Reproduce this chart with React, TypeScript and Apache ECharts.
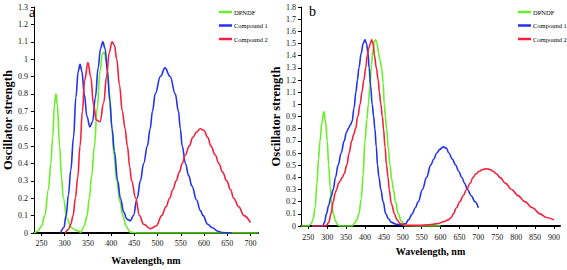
import React, { useEffect, useRef } from "react";
import * as echarts from "echarts";

// ---------- Panel a ----------
const aDpndfWl = [234, 242, 250, 257, 265, 270, 274, 278, 281, 284, 289, 293, 297, 305, 315, 325, 335, 342, 348, 353, 358, 364, 370, 376, 381, 385, 390, 396, 401, 406, 412, 419, 425, 432, 441, 455, 500, 600, 716];
const aDpndfVal = [0, 0.01, 0.04, 0.1, 0.25, 0.4, 0.55, 0.74, 0.8, 0.74, 0.5, 0.32, 0.2, 0.08, 0.03, 0.015, 0.005, 0.04, 0.1, 0.2, 0.33, 0.5, 0.72, 0.93, 1.03, 1.04, 0.98, 0.82, 0.62, 0.45, 0.3, 0.18, 0.1, 0.04, 0.005, 0, 0, 0, 0];

const aComp1Wl = [291, 298, 303, 308, 313, 319, 324, 329, 333, 337, 342, 348, 354, 360, 366, 372, 377, 382, 387, 392, 397, 402, 407, 414, 420, 427, 434, 441, 448, 456, 463, 470, 478, 484, 489, 495, 506, 516, 527, 538, 545, 549, 553, 560, 567, 574, 584, 592, 598, 608, 618, 630, 640, 660];
const aComp1Val = [0, 0.03, 0.1, 0.22, 0.36, 0.55, 0.78, 0.93, 0.97, 0.93, 0.8, 0.67, 0.61, 0.64, 0.78, 0.95, 1.06, 1.1, 1.06, 0.93, 0.76, 0.6, 0.47, 0.3, 0.2, 0.12, 0.08, 0.07, 0.1, 0.2, 0.3, 0.4, 0.5, 0.6, 0.7, 0.8, 0.9, 0.95, 0.9, 0.8, 0.7, 0.6, 0.5, 0.4, 0.33, 0.27, 0.19, 0.13, 0.1, 0.05, 0.03, 0.01, 0.003, 0];

const aComp2Wl = [301, 308, 313, 318, 323, 328, 333, 338, 343, 350, 356, 362, 368, 376, 384, 390, 396, 402, 407, 412, 418, 424, 430, 435, 440, 444, 453, 461, 470, 485, 497, 509, 518, 526, 533, 540, 547, 553, 560, 568, 576, 584, 592, 600, 608, 615, 624, 632, 640, 649, 657, 664, 675, 686, 700];
const aComp2Val = [0, 0.02, 0.05, 0.1, 0.2, 0.32, 0.5, 0.7, 0.88, 0.98, 0.9, 0.74, 0.65, 0.64, 0.75, 0.9, 1.04, 1.1, 1.08, 1.0, 0.85, 0.7, 0.6, 0.5, 0.38, 0.3, 0.2, 0.1, 0.05, 0.025, 0.04, 0.1, 0.15, 0.2, 0.25, 0.3, 0.35, 0.4, 0.45, 0.5, 0.55, 0.58, 0.6, 0.59, 0.55, 0.5, 0.45, 0.4, 0.35, 0.3, 0.25, 0.2, 0.15, 0.1, 0.06];

// ---------- Panel b ----------
const bDpndfWl = [231, 250, 258, 263, 268, 273, 277, 281, 286, 291, 296, 300, 304, 308, 312, 316, 322, 328, 334, 350, 365, 372, 378, 384, 390, 395, 400, 405, 409, 413, 417, 421, 425, 428, 432, 436, 440, 444, 448, 451, 454, 457, 462, 466, 471, 475, 481, 488, 496, 506, 540, 600];
const bDpndfVal = [0, 0, 0.02, 0.06, 0.15, 0.35, 0.55, 0.7, 0.85, 0.94, 0.85, 0.7, 0.5, 0.32, 0.18, 0.1, 0.04, 0.01, 0, 0, 0, 0.02, 0.05, 0.1, 0.22, 0.42, 0.7, 0.88, 1.0, 1.15, 1.32, 1.45, 1.52, 1.53, 1.5, 1.42, 1.36, 1.3, 1.18, 1.0, 0.9, 0.8, 0.63, 0.5, 0.38, 0.3, 0.2, 0.1, 0.04, 0.003, 0, 0];

const bComp1Wl = [260, 288, 293, 298, 304, 310, 316, 322, 329, 337, 345, 351, 356, 361, 366, 371, 376, 380, 384, 390, 395, 400, 404, 408, 411, 415, 419, 423, 426, 430, 433, 437, 442, 448, 455, 462, 470, 482, 497, 508, 515, 525, 533, 541, 552, 563, 574, 582, 590, 598, 607, 615, 622, 631, 640, 648, 656, 664, 671, 681, 691, 700];
const bComp1Val = [0, 0, 0.03, 0.1, 0.17, 0.24, 0.3, 0.4, 0.5, 0.6, 0.7, 0.77, 0.8, 0.83, 0.86, 0.97, 1.1, 1.2, 1.3, 1.42, 1.5, 1.53, 1.5, 1.42, 1.3, 1.15, 1.0, 0.9, 0.8, 0.65, 0.5, 0.4, 0.3, 0.2, 0.1, 0.06, 0.03, 0.015, 0.01, 0.02, 0.05, 0.1, 0.15, 0.2, 0.3, 0.4, 0.5, 0.55, 0.6, 0.63, 0.65, 0.64, 0.6, 0.55, 0.5, 0.45, 0.4, 0.35, 0.3, 0.25, 0.2, 0.15];

const bComp2Wl = [260, 290, 298, 304, 310, 316, 321, 325, 330, 334, 340, 345, 352, 358, 365, 370, 375, 381, 387, 392, 397, 402, 406, 410, 414, 418, 422, 425, 430, 435, 438, 442, 446, 449, 453, 457, 461, 464, 470, 478, 485, 493, 505, 523, 545, 567, 580, 594, 608, 620, 628, 634, 642, 651, 660, 669, 678, 686, 694, 702, 712, 722, 731, 739, 748, 757, 772, 788, 805, 823, 843, 863, 880, 900];
const bComp2Val = [0, 0, 0.005, 0.03, 0.1, 0.2, 0.27, 0.3, 0.35, 0.37, 0.4, 0.43, 0.5, 0.6, 0.7, 0.75, 0.8, 0.9, 1.0, 1.1, 1.2, 1.3, 1.4, 1.46, 1.5, 1.53, 1.49, 1.4, 1.3, 1.2, 1.1, 1.0, 0.9, 0.8, 0.65, 0.5, 0.4, 0.3, 0.18, 0.1, 0.05, 0.02, 0.008, 0.005, 0.005, 0.01, 0.015, 0.02, 0.035, 0.05, 0.07, 0.1, 0.15, 0.2, 0.25, 0.3, 0.35, 0.4, 0.43, 0.45, 0.465, 0.47, 0.465, 0.45, 0.43, 0.4, 0.35, 0.3, 0.25, 0.2, 0.15, 0.1, 0.07, 0.05];

const seriesNames = ["DPNDF", "Compound 1", "Compound 2"];
const seriesColors = ["#66f025", "#2233f0", "#f5203c"];
const aTicks = [250, 300, 350, 400, 450, 500, 550, 600, 650, 700];
const bTicks = [250, 300, 350, 400, 450, 500, 550, 600, 650, 700, 750, 800, 850, 900];

const pairs = (xs: number[], ys: number[]) => xs.map((x, i) => [x, ys[i]]);

const SERIF = "'Liberation Serif', 'Times New Roman', serif";

export default function App() {
  const ref = useRef<HTMLDivElement>(null);
  useEffect(() => {
    if (!ref.current) return;
    const chart = echarts.init(ref.current, undefined, { renderer: "svg" });

    const mkX = (idx: number, min: number, max: number, ticks: number[], margin: number, gap: number) => ({
      type: "value",
      gridIndex: idx,
      min,
      max,
      name: "Wavelength, nm",
      nameLocation: "middle",
      nameGap: gap,
      nameTextStyle: { fontFamily: SERIF, fontWeight: "bold", fontSize: 10, color: "#000" },
      axisLine: { show: true, lineStyle: { color: "#000", width: 2 } },
      axisTick: { show: true, length: 3, customValues: ticks, lineStyle: { color: "#000" } },
      axisLabel: { customValues: ticks, fontFamily: SERIF, fontSize: 8, color: "#111", margin },
      splitLine: { show: false },
    });
    const mkY = (idx: number, max: number, gap: number, margin: number) => ({
      type: "value",
      gridIndex: idx,
      min: 0,
      max,
      interval: 0.1,
      name: "Oscillator strength",
      nameLocation: "middle",
      nameRotate: 90,
      nameGap: gap,
      nameTextStyle: { fontFamily: SERIF, fontWeight: "bold", fontSize: 12.5, color: "#000" },
      axisLine: { show: true, lineStyle: { color: "#000", width: 1 } },
      axisTick: { show: true, length: 3, lineStyle: { color: "#000" } },
      axisLabel: { fontFamily: SERIF, fontSize: 8, color: "#111", margin },
      splitLine: { show: false },
    });

    const mkSeries = (name: string, color: string, data: number[][], idx: number) => ({
      type: "line",
      name,
      xAxisIndex: idx,
      yAxisIndex: idx,
      data,
      smooth: 0.4,
      smoothMonotone: "x",
      showSymbol: false,
      symbol: "none",
      lineStyle: { color, width: 1.6 },
      itemStyle: { color },
    });

    const mkLegend = (left: number) => ({
      orient: "vertical",
      left,
      top: 2,
      icon: "rect",
      itemWidth: 13,
      itemHeight: 2.5,
      itemGap: 3.5,
      data: seriesNames,
      textStyle: { fontFamily: SERIF, fontSize: 6.5, color: "#000", lineHeight: 10, padding: [0, 0, 0, -3] },
    });

    chart.setOption({
      animation: false,
      backgroundColor: "#fff",
      grid: [
        { left: 22, top: 7, width: 236, height: 228 },
        { left: 301, top: 7, width: 259, height: 219 },
      ],
      xAxis: [mkX(0, 233.6, 716.3, aTicks, 6, 22), mkX(1, 230.7, 916, bTicks, 7, 20)],
      yAxis: [mkY(0, 1.3, 14, 6), mkY(1, 1.8, 12, 5)],
      legend: [mkLegend(214), mkLegend(513)],
      series: [
        mkSeries(seriesNames[0], seriesColors[0], pairs(aDpndfWl, aDpndfVal), 0),
        mkSeries(seriesNames[1], seriesColors[1], pairs(aComp1Wl, aComp1Val), 0),
        mkSeries(seriesNames[2], seriesColors[2], pairs(aComp2Wl, aComp2Val), 0),
        mkSeries(seriesNames[0], seriesColors[0], pairs(bDpndfWl, bDpndfVal), 1),
        mkSeries(seriesNames[1], seriesColors[1], pairs(bComp1Wl, bComp1Val), 1),
        mkSeries(seriesNames[2], seriesColors[2], pairs(bComp2Wl, bComp2Val), 1),
      ],
      graphic: [
        { type: "text", left: 29, top: 5, style: { text: "a", font: `14px ${SERIF}`, fill: "#000" } },
        { type: "text", left: 309, top: 4, style: { text: "b", font: `14px ${SERIF}`, fill: "#000" } },
      ],
    });
    return () => chart.dispose();
  }, []);
  return <div ref={ref} style={{ position: "absolute", left: 0, top: 0, width: 567, height: 270 }} />;
}
